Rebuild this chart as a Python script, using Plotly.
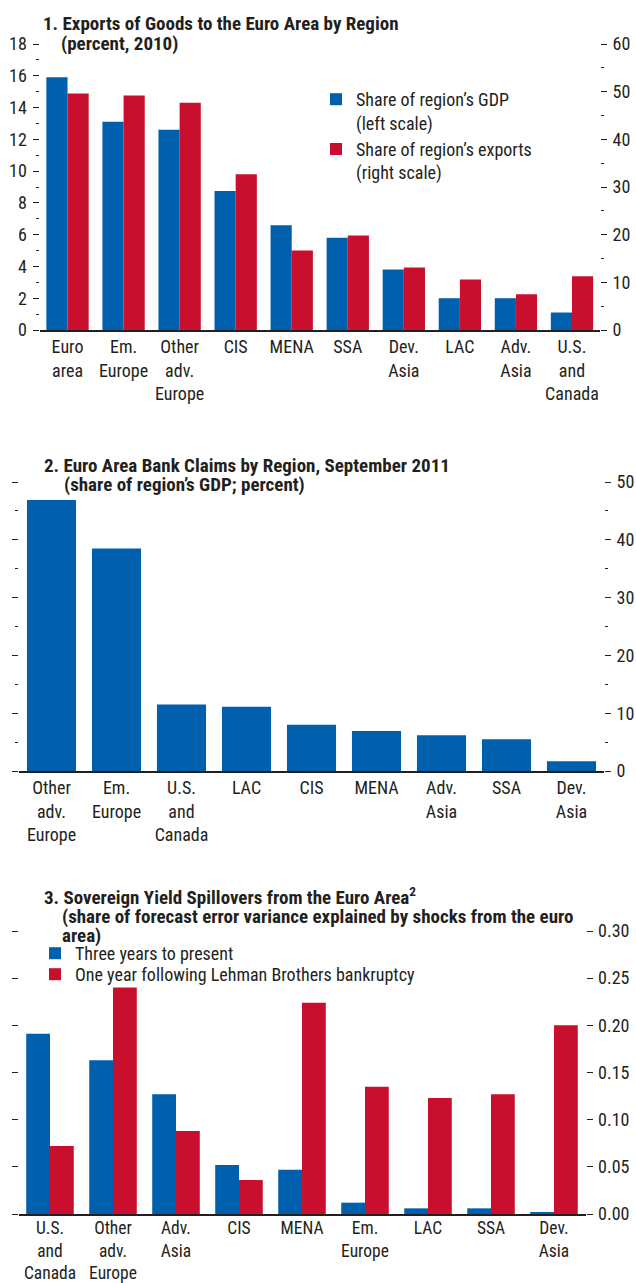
import plotly.graph_objects as go

W, H = 636, 1283
BLUE = "#0060ad"
RED = "#c8102e"
INK = "#231f20"
FONT = "Liberation Sans Narrow, Roboto Condensed, DejaVu Sans Condensed, Arial Narrow, sans-serif"

# panel 1: exports of goods to the euro area (2010)
p1_regions = ["Euro area", "Em. Europe", "Other adv. Europe", "CIS", "MENA", "SSA",
              "Dev. Asia", "LAC", "Adv. Asia", "U.S. and Canada"]
p1_labels = ["Euro<br>area", "Em.<br>Europe", "Other<br>adv.<br>Europe", "CIS", "MENA", "SSA",
             "Dev.<br>Asia", "LAC", "Adv.<br>Asia", "U.S.<br>and<br>Canada"]
p1_gdp = [15.9, 13.1, 12.6, 8.75, 6.6, 5.8, 3.8, 2.0, 2.0, 1.1]
p1_exports = [49.6, 49.2, 47.7, 32.7, 16.7, 19.8, 13.1, 10.6, 7.5, 11.3]

# panel 2: euro area bank claims (Sept 2011)
p2_regions = ["Other adv. Europe", "Em. Europe", "U.S. and Canada", "LAC", "CIS", "MENA",
              "Adv. Asia", "SSA", "Dev. Asia"]
p2_labels = ["Other<br>adv.<br>Europe", "Em.<br>Europe", "U.S.<br>and<br>Canada", "LAC", "CIS",
             "MENA", "Adv.<br>Asia", "SSA", "Dev.<br>Asia"]
p2_claims = [46.9, 38.5, 11.5, 11.1, 8.0, 6.9, 6.2, 5.5, 1.7]

# panel 3: sovereign yield spillovers
p3_regions = ["U.S. and Canada", "Other adv. Europe", "Adv. Asia", "CIS", "MENA", "Em. Europe",
              "LAC", "SSA", "Dev. Asia"]
p3_labels = ["U.S.<br>and<br>Canada", "Other<br>adv.<br>Europe", "Adv.<br>Asia", "CIS", "MENA",
             "Em.<br>Europe", "LAC", "SSA", "Dev.<br>Asia"]
p3_recent = [0.191, 0.163, 0.127, 0.052, 0.047, 0.012, 0.006, 0.006, 0.002]
p3_lehman = [0.072, 0.240, 0.088, 0.036, 0.224, 0.135, 0.123, 0.127, 0.200]


def xdom(left, right):
    return [left / W, right / W]


def ydom(top, bottom):
    return [1 - bottom / H, 1 - top / H]


fig = go.Figure()
fig.add_trace(go.Bar(x=p1_regions, y=p1_gdp, marker_color=BLUE, xaxis="x", yaxis="y",
                     offsetgroup="a", alignmentgroup="p1",
                     name="Share of region’s GDP<br>(left scale)", legend="legend"))
fig.add_trace(go.Bar(x=p1_regions, y=p1_exports, marker_color=RED, xaxis="x", yaxis="y2",
                     offsetgroup="b", alignmentgroup="p1",
                     name="Share of region’s exports<br>(right scale)", legend="legend"))
fig.add_trace(go.Bar(x=p2_regions, y=p2_claims, marker_color=BLUE, xaxis="x2", yaxis="y3",
                     showlegend=False))
fig.add_trace(go.Bar(x=p3_regions, y=p3_recent, marker_color=BLUE, xaxis="x3", yaxis="y4",
                     name="Three years to present", legend="legend2"))
fig.add_trace(go.Bar(x=p3_regions, y=p3_lehman, marker_color=RED, xaxis="x3", yaxis="y4",
                     name="One year following Lehman Brothers bankruptcy", legend="legend3"))
for t in fig.data:
    t.marker.line.width = 0

tickfont = dict(family=FONT, size=18, color=INK)
xbase = dict(type="category", showline=True, linecolor=INK, linewidth=1.5, ticks="",
             showgrid=False, zeroline=False, tickfont=tickfont, automargin=False,
             fixedrange=True)
ybase = dict(showgrid=False, zeroline=False, showline=False, ticks="outside", ticklen=6,
             tickwidth=1, tickcolor=INK, tickfont=tickfont, ticklabelstandoff=2,
             automargin=False, fixedrange=True)
legbase = dict(xanchor="left", yanchor="top", bgcolor="rgba(0,0,0,0)",
               font=dict(family=FONT, size=18, color=INK), valign="top",
               tracegroupgap=2, itemclick=False, itemdoubleclick=False)

fig.update_layout(
    width=W, height=H,
    margin=dict(l=0, r=0, t=0, b=0, autoexpand=False),
    paper_bgcolor="white", plot_bgcolor="white",
    font=dict(family=FONT, color=INK),
    barmode="group", bargap=0.245, bargroupgap=0,
    xaxis=dict(xbase, domain=xdom(39.5, 600), anchor="y",
               tickvals=p1_regions, ticktext=p1_labels),
    yaxis=dict(ybase, domain=ydom(44, 330), anchor="x", range=[0, 18], dtick=2,
               minor=dict(ticks="outside", dtick=1, ticklen=3, tickcolor=INK)),
    yaxis2=dict(ybase, overlaying="y", side="right", anchor="x", range=[0, 60], dtick=10,
                minor=dict(ticks="outside", dtick=5, ticklen=3, tickcolor=INK)),
    xaxis2=dict(xbase, domain=xdom(19, 604), anchor="y3",
                tickvals=p2_regions, ticktext=p2_labels),
    yaxis3=dict(ybase, domain=ydom(482, 771), anchor="x2", side="right", mirror="ticks",
                range=[0, 50], dtick=10,
                minor=dict(ticks="outside", dtick=5, ticklen=3, tickcolor=INK)),
    xaxis3=dict(xbase, domain=xdom(18.5, 585.5), anchor="y4", ticklabelstandoff=-3,
                tickfont=dict(family=FONT, size=17.5, color=INK),
                tickvals=p3_regions, ticktext=p3_labels),
    yaxis4=dict(ybase, domain=ydom(931, 1214), anchor="x3", side="right", mirror="ticks",
                range=[0, 0.30], dtick=0.05, tickformat=".2f"),
    legend=dict(legbase, x=316 / W, y=1 - 81 / H),
    legend2=dict(legbase, x=35 / W, y=1 - 935 / H),
    legend3=dict(legbase, x=35 / W, y=1 - 956 / H),
)

titles = [
    ("<b>1. Exports of Goods to the Euro Area by Region</b>", 41, 23),
    ("<b>(percent, 2010)</b>", 59, 43),
    ("<b>2. Euro Area Bank Claims by Region, September 2011</b>", 42, 466),
    ("<b>(share of region’s GDP; percent)</b>", 62, 485),
    ("<b>3. Sovereign Yield Spillovers from the Euro Area<sup>2</sup></b>", 42, 896),
    ("<b>(share of forecast error variance explained by shocks from the euro</b>", 60, 916),
    ("<b>area)</b>", 60, 935),
]
for text, x, y in titles:
    fig.add_annotation(text=text, x=x / W, y=1 - y / H, xref="paper", yref="paper",
                       xanchor="left", yanchor="middle", showarrow=False,
                       font=dict(family=FONT, size=19, color=INK))

fig.write_html("out.html", config={"displayModeBar": False},
               post_script="document.body.style.margin='0';")
